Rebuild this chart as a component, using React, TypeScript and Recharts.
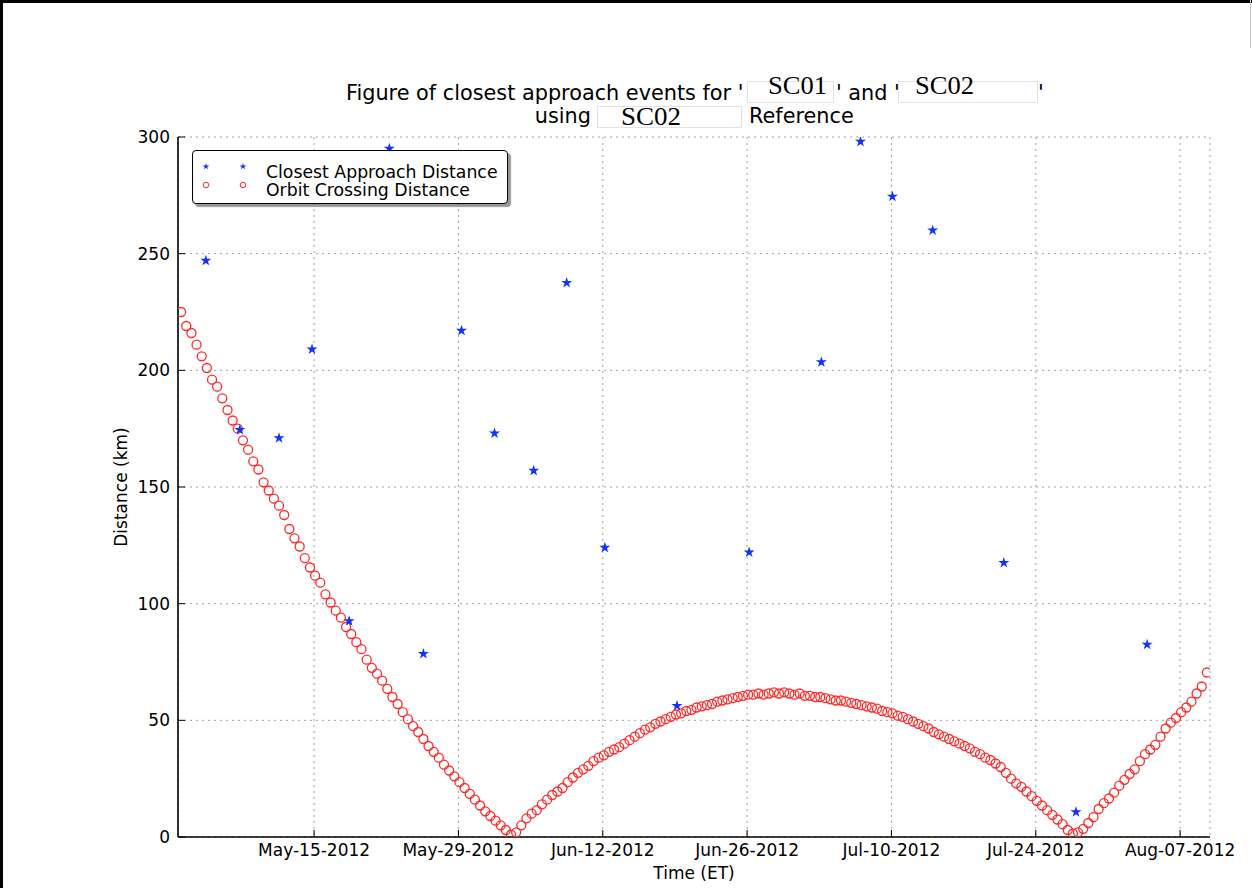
import { ScatterChart, Scatter, XAxis, YAxis, CartesianGrid, Legend, Symbols } from 'recharts';

const FONT = '"DejaVu Sans", Verdana, sans-serif';
const SERIF = '"Liberation Serif", "Times New Roman", serif';

// x values are days since 2012-05-01
const tickDays = [14, 28, 42, 56, 70, 84, 98];
const tickLabels = ['May-15-2012', 'May-29-2012', 'Jun-12-2012', 'Jun-26-2012', 'Jul-10-2012', 'Jul-24-2012', 'Aug-07-2012'];
const distanceTicks = [0, 50, 100, 150, 200, 250, 300];

const seriesNames = ['Closest Approach Distance', 'Orbit Crossing Distance'];

const approachDays = [3.5, 6.8, 10.6, 13.8, 17.4, 21.3, 24.6, 28.3, 31.5, 35.3, 38.5, 42.2, 49.2, 56.2, 63.2, 67.0, 70.1, 74.0, 80.9, 87.9, 94.8];
const approachKm = [247, 174.5, 171, 209, 92.5, 295, 78.5, 217, 173, 157, 237.5, 124, 56.2, 122, 203.5, 298, 274.5, 260, 117.5, 10.7, 82.5];

// orbit crossing distance, sampled every half day from day 1.1
const crossingStart = 1.1;
const crossingStep = 0.5;
const crossingKm = [
  225, 219, 216, 211, 206, 201, 196, 193, 188, 183,
  178.5, 175, 170, 166, 161, 157.5, 152, 148.5, 145, 142,
  138, 132, 128, 124.5, 119.5, 115.5, 112, 109, 104, 100.5,
  97, 94, 90, 87, 83.5, 80.5, 76, 72.5, 70, 67,
  63.5, 60, 57, 53.5, 50.5, 47.5, 45, 42, 39, 36.5,
  34, 31, 28.5, 26, 23.5, 21, 18.5, 16, 13.5, 11,
  9, 7, 5, 3, 1, 2, 5, 8, 10, 11.5,
  14, 16, 18, 19.5, 21, 23.5, 25.5, 27.5, 29, 30.5,
  32.5, 34, 35, 36.5, 37.5, 38.5, 40, 41.5, 43, 44.5,
  46, 47, 48.5, 49.5, 50.5, 51.5, 52.5, 53, 54, 54.5,
  55.5, 56, 56.5, 57, 58, 58.5, 59, 59.5, 60, 60.5,
  61, 61, 61.5, 61, 61.5, 62, 61.5, 62, 61.5, 61,
  61.5, 60.5, 60.5, 60, 60, 59.5, 59, 58.5, 58.5, 58,
  57.5, 57, 56.5, 56, 55.5, 55, 54, 53.5, 53, 52,
  51.5, 50.5, 49.5, 48.5, 47.5, 46.5, 45, 44, 43, 42,
  41, 40, 39, 38, 36.5, 35.5, 34, 33, 31.5, 30,
  27.5, 25, 23, 21.5, 19.5, 17.5, 15.5, 13.5, 11.5, 9.5,
  7.5, 5.5, 3, 1.5, 2, 3.5, 6, 8.5, 12, 14.5,
  16.5, 19, 22, 24.5, 27, 29, 32.5, 35.5, 37.5, 39.5,
  43, 46.5, 49, 51, 53.5, 55.5, 58, 61.5, 64.5, 70.5,
];

const approachData = approachDays.map((day, i) => ({ day, km: approachKm[i] }));
const crossingData = crossingKm.map((km, i) => ({ day: crossingStart + i * crossingStep, km }));

const BLUE = '#1232ff';
const RED = '#ff2a2a';

const StarDot = (p: any) => <Symbols cx={p.cx} cy={p.cy} type="star" size={38} fill={BLUE} stroke="none" />;
const RingDot = (p: any) => <circle cx={p.cx} cy={p.cy} r={4.5} fill="none" stroke={RED} strokeWidth={1.3} />;

const BottomTick = (p: any) => {
  const idx = tickDays.indexOf(p.payload.value);
  return (
    <g>
      <line x1={p.x} y1={p.y} x2={p.x} y2={p.y - 7} stroke="#000" strokeWidth={1} />
      <text x={p.x} y={p.y + 19} textAnchor="middle" fontFamily={FONT} fontSize={17} fill="#000">
        {tickLabels[idx]}
      </text>
    </g>
  );
};
const TopTick = (p: any) => <line x1={p.x} y1={p.y} x2={p.x} y2={p.y + 7} stroke="#000" strokeWidth={1} />;
const LeftTick = (p: any) => (
  <g>
    <line x1={p.x} y1={p.y} x2={p.x + 7} y2={p.y} stroke="#000" strokeWidth={1} />
    <text x={p.x - 8} y={p.y + 6} textAnchor="end" fontFamily={FONT} fontSize={17} fill="#000">
      {p.payload.value}
    </text>
  </g>
);
const RightTick = (p: any) => <line x1={p.x} y1={p.y} x2={p.x - 7} y2={p.y} stroke="#000" strokeWidth={1} />;

function LegendBox() {
  return (
    <div
      style={{
        width: 314,
        height: 52,
        border: '1.6px solid #000',
        borderRadius: 4,
        background: '#fff',
        boxShadow: '3px 3px 1px rgba(0,0,0,0.4)',
      }}
    >
      <svg width={314} height={52} style={{ display: 'block' }}>
        <Symbols cx={13} cy={15.5} type="star" size={14} fill={BLUE} />
        <Symbols cx={50} cy={15.5} type="star" size={14} fill={BLUE} />
        <circle cx={13} cy={34} r={2.8} fill="none" stroke={RED} strokeWidth={1} />
        <circle cx={50} cy={34} r={2.8} fill="none" stroke={RED} strokeWidth={1} />
        <text x={73} y={27} fontFamily={FONT} fontSize={17.3} fill="#000">{seriesNames[0]}</text>
        <text x={73} y={44.5} fontFamily={FONT} fontSize={17.3} fill="#000">{seriesNames[1]}</text>
      </svg>
    </div>
  );
}

const boxStyle = { fill: '#fff', stroke: '#e2e2e2', strokeWidth: 1 };

export default function App() {
  return (
    <div style={{ position: 'relative', width: 1252, height: 888, background: '#fff', overflow: 'hidden' }}>
      <style>{'body{margin:0;}'}</style>
      <ScatterChart width={1252} height={888} margin={{ top: 137, right: 42, bottom: 0, left: 0 }}>
        <CartesianGrid stroke="#a0a0a0" strokeDasharray="2 4" strokeWidth={1} />
        <XAxis
          dataKey="day"
          type="number"
          domain={[0.8, 100.9]}
          ticks={tickDays}
          interval={0}
          height={51}
          tickSize={0}
          tickMargin={0}
          tickLine={false}
          axisLine={{ stroke: '#000', strokeWidth: 1.6 }}
          tick={<BottomTick />}
          allowDataOverflow
        />
        <XAxis
          xAxisId="top"
          orientation="top"
          type="number"
          domain={[0.8, 100.9]}
          ticks={tickDays}
          interval={0}
          height={0}
          tickSize={0}
          tickMargin={0}
          tickLine={false}
          axisLine={{ stroke: '#000', strokeWidth: 1.6 }}
          tick={<TopTick />}
          allowDataOverflow
        />
        <YAxis
          dataKey="km"
          type="number"
          domain={[0, 300]}
          ticks={distanceTicks}
          interval={0}
          width={178}
          tickSize={0}
          tickMargin={0}
          tickLine={false}
          axisLine={{ stroke: '#000', strokeWidth: 1.6 }}
          tick={<LeftTick />}
          allowDataOverflow
        />
        <YAxis
          yAxisId="right"
          orientation="right"
          type="number"
          domain={[0, 300]}
          ticks={distanceTicks}
          interval={0}
          width={0}
          tickSize={0}
          tickMargin={0}
          tickLine={false}
          axisLine={{ stroke: '#000', strokeWidth: 1.6 }}
          tick={<RightTick />}
          allowDataOverflow
        />
        <Legend
          layout="vertical"
          align="center"
          verticalAlign="middle"
          wrapperStyle={{ left: 192, top: 150, width: 'auto' }}
          content={() => <LegendBox />}
        />
        <Scatter name={seriesNames[1]} data={crossingData} shape={RingDot} isAnimationActive={false} />
        <Scatter name={seriesNames[0]} data={approachData} shape={StarDot} isAnimationActive={false} />
      </ScatterChart>

      <svg width={1252} height={888} style={{ position: 'absolute', left: 0, top: 0, pointerEvents: 'none' }}>
        <rect x={0} y={0} width={1252} height={3} fill="#000" />
        <rect x={0} y={0} width={3} height={888} fill="#000" />
        <line x1={1250.5} y1={0} x2={1250.5} y2={48} stroke="#c8c8c8" strokeWidth={1} />

        <text x={346} y={99.5} fontFamily={FONT} fontSize={20.8} fill="#000">Figure of closest approach events for '</text>
        <rect x={747.5} y={81.5} width={86} height={21} {...boxStyle} />
        <text x={768} y={94} fontFamily={SERIF} fontSize={25} fill="#000" textLength={59} lengthAdjust="spacingAndGlyphs">SC01</text>
        <text x={836} y={99.5} fontFamily={FONT} fontSize={20.8} fill="#000">' and '</text>
        <rect x={898.5} y={81.5} width={139} height={21} {...boxStyle} />
        <text x={915} y={94} fontFamily={SERIF} fontSize={25} fill="#000" textLength={59} lengthAdjust="spacingAndGlyphs">SC02</text>
        <text x={1038} y={99.5} fontFamily={FONT} fontSize={20.8} fill="#000">'</text>

        <text x={591} y={123} textAnchor="end" fontFamily={FONT} fontSize={20.8} fill="#000">using</text>
        <rect x={597.5} y={106.5} width={144} height={21} {...boxStyle} />
        <text x={621} y={125} fontFamily={SERIF} fontSize={25} fill="#000" textLength={60} lengthAdjust="spacingAndGlyphs">SC02</text>
        <text x={749} y={123} fontFamily={FONT} fontSize={20.8} fill="#000">Reference</text>

        <text x={694} y={879} textAnchor="middle" fontFamily={FONT} fontSize={17} fill="#000">Time (ET)</text>
        <text
          x={127}
          y={487}
          textAnchor="middle"
          transform="rotate(-90 127 487)"
          fontFamily={FONT}
          fontSize={17}
          fill="#000"
        >
          Distance (km)
        </text>
      </svg>
    </div>
  );
}
